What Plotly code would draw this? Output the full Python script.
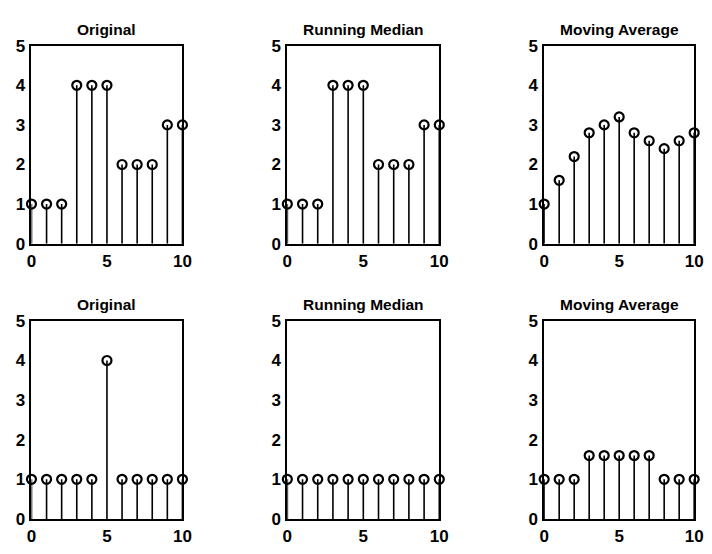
import plotly.graph_objects as go

# sample index
n = list(range(11))

# first signal: original, 3-point running median, 5-point moving average
orig_a = [1, 1, 1, 4, 4, 4, 2, 2, 2, 3, 3]
median_a = [1, 1, 1, 4, 4, 4, 2, 2, 2, 3, 3]
mavg_a = [1, 1.6, 2.2, 2.8, 3.0, 3.2, 2.8, 2.6, 2.4, 2.6, 2.8]

# second signal: a single impulse
orig_b = [1, 1, 1, 1, 1, 4, 1, 1, 1, 1, 1]
median_b = [1, 1, 1, 1, 1, 1, 1, 1, 1, 1, 1]
mavg_b = [1, 1, 1, 1.6, 1.6, 1.6, 1.6, 1.6, 1, 1, 1]

titles = ["Original", "Running Median", "Moving Average"]
panels = [orig_a, median_a, mavg_a, orig_b, median_b, mavg_b]

W, H = 712, 554
# panel boxes in pixels (left, right) and (top, bottom)
cols_px = [(27, 181), (288, 443), (550, 703)]
rows_px = [(38, 243), (323, 528)]

FONT = "Liberation Sans, Arial, Helvetica, sans-serif"

fig = go.Figure()

for i, vals in enumerate(panels):
    r, c = divmod(i, 3)
    k = i + 1
    xa = "x" if k == 1 else f"x{k}"
    ya = "y" if k == 1 else f"y{k}"

    # stems from zero up to each value
    sx, sy = [], []
    for xi, yi in zip(n, vals):
        sx += [xi, xi, None]
        sy += [0, yi, None]
    fig.add_trace(go.Scatter(
        x=sx, y=sy, mode="lines", xaxis=xa, yaxis=ya,
        line=dict(color="black", width=1.6), hoverinfo="skip",
        showlegend=False, cliponaxis=False,
    ))
    fig.add_trace(go.Scatter(
        x=n, y=vals, mode="markers", xaxis=xa, yaxis=ya,
        marker=dict(symbol="circle-open", size=9, color="black",
                    line=dict(width=2.2, color="black")),
        showlegend=False, cliponaxis=False,
    ))

    x0, x1 = cols_px[c]
    t0, t1 = rows_px[r]
    axis_common = dict(
        showgrid=False, zeroline=False, showline=True, mirror=True,
        linecolor="black", linewidth=1.8, ticks="",
        tickfont=dict(family=FONT, size=17, color="black", weight="bold"),
        fixedrange=True,
    )
    fig.layout[("xaxis" if k == 1 else f"xaxis{k}")] = dict(
        axis_common, domain=[x0 / W, x1 / W], range=[0, 10],
        tickvals=[0, 5, 10], anchor=ya, ticklabelstandoff=1,
    )
    fig.layout[("yaxis" if k == 1 else f"yaxis{k}")] = dict(
        axis_common, domain=[1 - t1 / H, 1 - t0 / H], range=[0, 5],
        tickvals=[0, 1, 2, 3, 4, 5], anchor=xa, ticklabelstandoff=1,
    )

    fig.add_annotation(
        text=titles[c], xref="paper", yref="paper",
        x=(x0 + x1) / 2 / W, y=1 - (t0 - 6) / H,
        xanchor="center", yanchor="bottom", showarrow=False,
        font=dict(family=FONT, size=15.5, color="black", weight="bold"),
    )

fig.update_layout(
    width=W, height=H,
    margin=dict(l=0, r=0, t=0, b=0),
    paper_bgcolor="white", plot_bgcolor="white",
)

fig.write_html("out.html")
